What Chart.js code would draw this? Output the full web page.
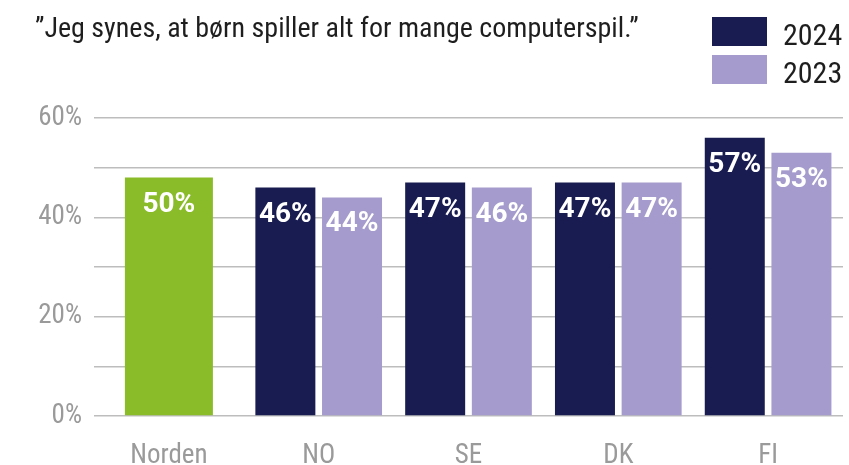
<!DOCTYPE html>
<html>
<head>
<meta charset="utf-8">
<script src="https://cdn.jsdelivr.net/npm/chart.js@4.4.1/dist/chart.umd.min.js"></script>
<style>
  html, body { margin: 0; padding: 0; background: #ffffff; }
  #wrap { width: 849px; height: 465px; position: relative; }
</style>
</head>
<body>
<div id="wrap"><canvas id="c" width="849" height="465"></canvas></div>
<script>
// ---- data ----
const titleText = '\u201DJeg synes, at børn spiller alt for mange computerspil.\u201D';
const categories = ['Norden', 'NO', 'SE', 'DK', 'FI'];
const seriesNames = ['Norden', '2024', '2023'];
const valuesNorden = [48, null, null, null, null];
const values2024 = [null, 46, 47, 47, 56];
const values2023 = [null, 44, 46, 47, 53];
const labelsNorden = ['50%', null, null, null, null];
const labels2024 = [null, '46%', '47%', '47%', '57%'];
const labels2023 = [null, '44%', '46%', '47%', '53%'];
const yTicks = [0, 20, 40, 60];

const NARROW = '"Liberation Sans Narrow", "Roboto Condensed", "DejaVu Sans Condensed", sans-serif';
const COLORS = { Norden: '#8abb28', '2024': '#191c50', '2023': '#a59bcc' };

const barLabelPlugin = {
  id: 'barLabels',
  afterDatasetsDraw(chart) {
    const ctx = chart.ctx;
    ctx.save();
    ctx.fillStyle = '#ffffff';
    ctx.font = 'bold 28px Roboto, sans-serif';
    ctx.textAlign = 'center';
    ctx.textBaseline = 'alphabetic';
    chart.data.datasets.forEach((ds, di) => {
      const meta = chart.getDatasetMeta(di);
      meta.data.forEach((el, i) => {
        const txt = ds.valueLabels[i];
        if (ds.data[i] == null || !txt) return;
        ctx.fillText(txt, el.x, el.y + 34);
      });
    });
    ctx.restore();
  }
};

const headerPlugin = {
  id: 'header',
  afterDraw(chart) {
    const ctx = chart.ctx;
    ctx.save();
    ctx.fillStyle = '#1e1e1e';
    ctx.font = '28px ' + NARROW;
    ctx.textAlign = 'left';
    ctx.textBaseline = 'alphabetic';
    ctx.fillText(titleText, 35, 37);
    // legend (series 2024, 2023)
    const items = chart.data.datasets.filter(d => d.inLegend);
    items.forEach((d, k) => {
      const top = 17 + k * 38;
      ctx.fillStyle = d.backgroundColor;
      ctx.fillRect(712, top, 55, 29);
      ctx.fillStyle = '#1e1e1e';
      ctx.font = '30px ' + NARROW;
      ctx.fillText(d.label, 783, top + 28);
    });
    ctx.restore();
  }
};

new Chart(document.getElementById('c'), {
  type: 'bar',
  data: {
    labels: categories,
    datasets: [
      { label: seriesNames[0], data: valuesNorden, valueLabels: labelsNorden, backgroundColor: COLORS.Norden,
        maxBarThickness: 88, inLegend: false },
      { label: seriesNames[1], data: values2024, valueLabels: labels2024, backgroundColor: COLORS['2024'], inLegend: true },
      { label: seriesNames[2], data: values2023, valueLabels: labels2023, backgroundColor: COLORS['2023'], inLegend: true }
    ]
  },
  options: {
    responsive: false,
    animation: false,
    devicePixelRatio: 1,
    skipNull: true,
    categoryPercentage: 0.89,
    barPercentage: 0.9,
    layout: { padding: { top: 118, right: 6, left: 0, bottom: 0 } },
    plugins: {
      legend: { display: false },
      title: { display: false },
      tooltip: { enabled: false }
    },
    scales: {
      x: {
        offset: true,
        grid: { display: false },
        border: { display: false },
        ticks: { color: '#9a9a9a', font: { family: NARROW, size: 27 }, padding: 16 },
        afterFit(s) { s.height = 49; }
      },
      y: {
        min: 0, max: 60,
        ticks: {
          stepSize: 10,
          color: '#9a9a9a',
          font: { family: NARROW, size: 27 },
          padding: 12,
          callback: v => (yTicks.includes(v) ? v + '%' : '')
        },
        grid: { color: '#bdbdbd', lineWidth: 1.5, drawTicks: false },
        border: { display: false },
        afterFit(s) { s.width = 94; }
      }
    }
  },
  plugins: [barLabelPlugin, headerPlugin]
});
</script>
</body>
</html>
